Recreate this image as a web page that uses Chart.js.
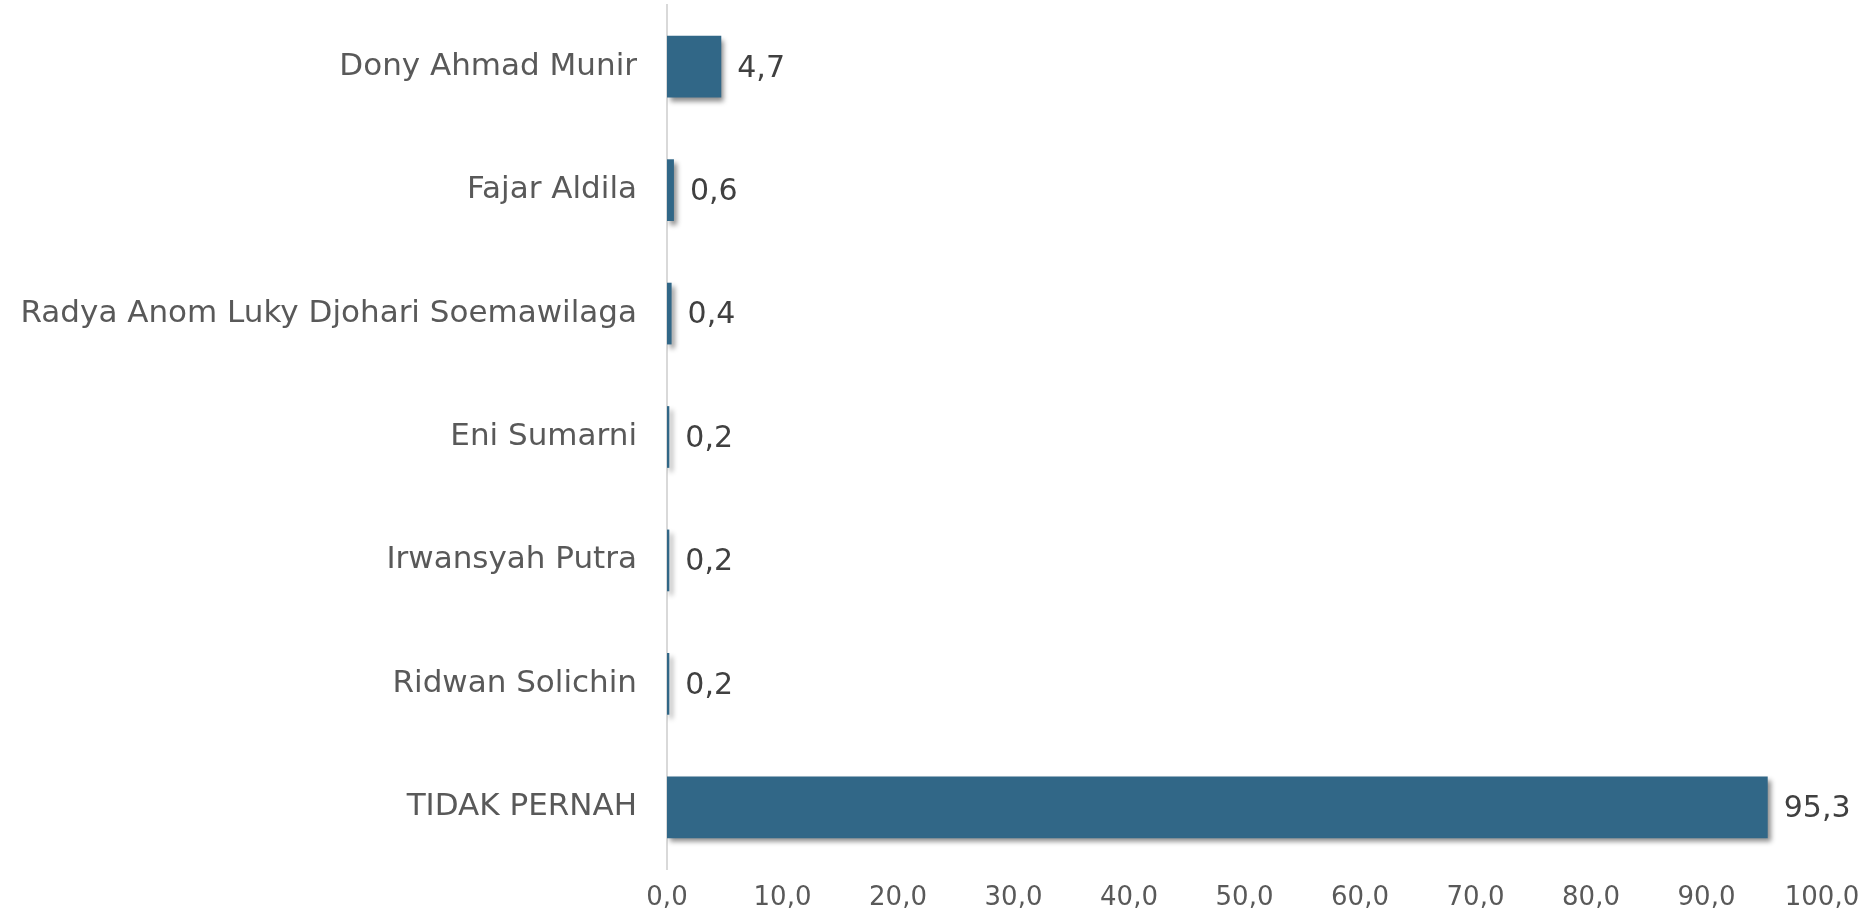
<!DOCTYPE html>
<html>
<head>
<meta charset="utf-8">
<script src="https://cdn.jsdelivr.net/npm/chart.js@4"></script>
<style>
  html, body { margin: 0; padding: 0; background: #ffffff; }
  #wrap { width: 1868px; height: 917px; }
</style>
</head>
<body>
<div id="wrap"><canvas id="barChart" width="1868" height="917"></canvas></div>
<script>
const names = [
    "Dony Ahmad Munir",
    "Fajar Aldila",
    "Radya Anom Luky Djohari Soemawilaga",
    "Eni Sumarni",
    "Irwansyah Putra",
    "Ridwan Solichin",
    "TIDAK PERNAH"
];
const percentages = [4.7, 0.6, 0.4, 0.2, 0.2, 0.2, 95.3];
const axisMin = 0;
const axisMax = 100;
const axisStep = 10;

const fmt = v => Number(v).toFixed(1).replace(".", ",");

// bar shadow like the office chart
const shadowPlugin = {
    id: "barShadow",
    beforeDatasetDraw(chart) {
        const ctx = chart.ctx;
        ctx.save();
        ctx.shadowColor = "rgba(0, 0, 0, 0.45)";
        ctx.shadowBlur = 5;
        ctx.shadowOffsetX = 3;
        ctx.shadowOffsetY = 4;
    },
    afterDatasetDraw(chart) {
        chart.ctx.restore();
    }
};

// value labels at the end of each bar
const valueLabels = {
    id: "valueLabels",
    afterDatasetsDraw(chart) {
        const ctx = chart.ctx;
        const meta = chart.getDatasetMeta(0);
        ctx.save();
        ctx.font = "30px 'DejaVu Sans'";
        ctx.fillStyle = "#404040";
        ctx.textAlign = "left";
        ctx.textBaseline = "middle";
        meta.data.forEach((bar, i) => {
            ctx.fillText(fmt(percentages[i]), bar.x + 16, bar.y + 2);
        });
        ctx.restore();
    }
};

const ctx = document.getElementById("barChart").getContext("2d");
new Chart(ctx, {
    type: "bar",
    data: {
        labels: names,
        datasets: [{
            data: percentages,
            backgroundColor: "#316787",
            borderWidth: 0,
            barPercentage: 0.5,
            categoryPercentage: 1.0
        }]
    },
    options: {
        indexAxis: "y",
        responsive: false,
        animation: false,
        layout: { padding: { top: 5, right: 46, bottom: 4, left: 0 } },
        plugins: {
            legend: { display: false },
            tooltip: { enabled: false }
        },
        scales: {
            x: {
                min: axisMin,
                max: axisMax,
                grid: { display: false, drawTicks: false },
                border: { display: false },
                ticks: {
                    stepSize: axisStep,
                    padding: 14,
                    color: "#595959",
                    font: { family: "DejaVu Sans", size: 26 },
                    callback: v => fmt(v)
                },
                afterFit(scale) {
                    scale.height = 44;
                    scale.paddingRight = 30;
                }
            },
            y: {
                grid: { display: false, drawTicks: false },
                border: { display: true, color: "#d9d9d9", width: 2 },
                ticks: {
                    padding: 30,
                    color: "#595959",
                    font: { family: "DejaVu Sans", size: 31 }
                },
                afterFit(scale) {
                    scale.width = 667;
                    scale.paddingTop = 0;
                    scale.paddingBottom = 0;
                }
            }
        }
    },
    plugins: [shadowPlugin, valueLabels]
});
</script>
</body>
</html>
